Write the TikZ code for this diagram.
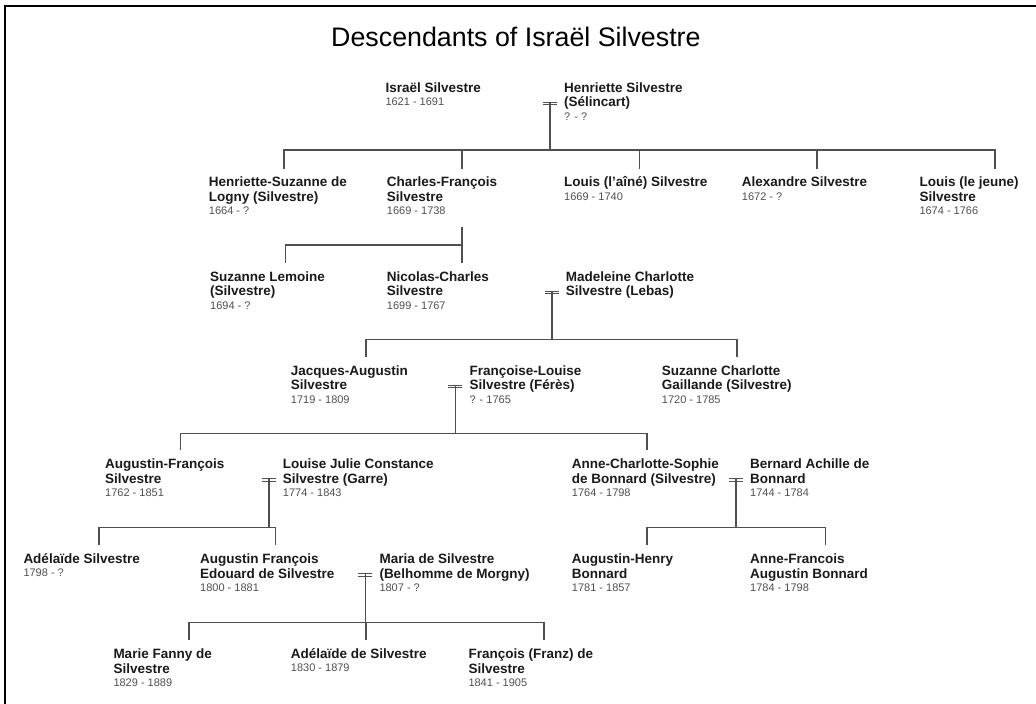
\documentclass[tikz,border=0pt]{standalone}
\usepackage{fontspec}
\setmainfont{Liberation Sans}
\usetikzlibrary{calc}
\definecolor{linkc}{HTML}{4F4F4F}
\definecolor{namec}{HTML}{1A1A1A}
\definecolor{datec}{HTML}{505050}
\newcommand\namefont{\fontsize{13.5}{14.7}\selectfont\bfseries}
\newcommand\datefont{\fontsize{11}{13}\selectfont\mdseries\color{datec}}
\newcommand\pp[2]{\begin{tabular}[t]{@{}l@{}}#1\\[-1.2pt]\datefont #2\end{tabular}}
\newcommand\pq[1]{\begin{tabular}[t]{@{}l@{}}#1\end{tabular}}
\tikzset{
  pers/.style={anchor=base west, inner sep=0pt, font=\namefont, text=namec},
  link/.style={draw=linkc, line width=1.6pt},
  marline/.style={draw=linkc, line width=1.1pt},
  frameline/.style={draw=black, line width=2.2pt},
  titletext/.style={anchor=base west, inner sep=0pt, font=\fontsize{26.8}{30}\selectfont, text=black}
}
\newcommand\marsym[1]{\draw[marline] ($(#1)+(-7,-1.2)$) -- ++(14,0) ($(#1)+(-7,1.2)$) -- ++(14,0);}
\begin{document}
\begin{tikzpicture}[x=1pt,y=-1pt]
\useasboundingbox (0,0) rectangle (1036,704);
\fill[white] (0,0) rectangle (1036,704);
\draw[frameline] (5.2,704) -- (5.2,5.8) -- (1036,5.8);

\node[titletext] (title) at (331,46) {Descendants of Israël Silvestre};

% generation 1
\node[pers] (is) at (385.3,92) {\pp{Israël Silvestre}{1621 - 1691}};
\node[pers] (hs0) at (564,92) {\pp{Henriette Silvestre\\(Sélincart)}{? - ?}};
% generation 2
\node[pers] (hsz) at (208.7,186.7) {\pp{Henriette-Suzanne de\\Logny (Silvestre)}{1664 - ?}};
\node[pers] (cf) at (386.7,186.7) {\pp{Charles-François\\Silvestre}{1669 - 1738}};
\node[pers] (la) at (564,186.7) {\pp{Louis (l'aîné) Silvestre}{1669 - 1740}};
\node[pers] (al) at (741.7,186.7) {\pp{Alexandre Silvestre}{1672 - ?}};
\node[pers] (lj) at (919.3,186.7) {\pp{Louis (le jeune)\\Silvestre}{1674 - 1766}};
% generation 3
\node[pers] (sl) at (210,281) {\pp{Suzanne Lemoine\\(Silvestre)}{1694 - ?}};
\node[pers] (nc) at (386.7,281) {\pp{Nicolas-Charles\\Silvestre}{1699 - 1767}};
\node[pers] (mc) at (565.7,281) {\pq{Madeleine Charlotte\\Silvestre (Lebas)}};
% generation 4
\node[pers] (ja) at (290.7,375) {\pp{Jacques-Augustin\\Silvestre}{1719 - 1809}};
\node[pers] (fl) at (469.3,375) {\pp{Françoise-Louise\\Silvestre (Férès)}{? - 1765}};
\node[pers] (sc) at (661.7,375) {\pp{Suzanne Charlotte\\Gaillande (Silvestre)}{1720 - 1785}};
% generation 5
\node[pers] (af) at (105,468.3) {\pp{Augustin-François\\Silvestre}{1762 - 1851}};
\node[pers] (lc) at (282.7,468.3) {\pp{Louise Julie Constance\\Silvestre (Garre)}{1774 - 1843}};
\node[pers] (ac) at (571.7,468.3) {\pp{Anne-Charlotte-Sophie\\de Bonnard (Silvestre)}{1764 - 1798}};
\node[pers] (ba) at (750,468.3) {\pp{Bernard Achille de\\Bonnard}{1744 - 1784}};
% generation 6
\node[pers] (ad) at (23.3,563.3) {\pp{Adélaïde Silvestre}{1798 - ?}};
\node[pers] (afe) at (200,563.3) {\pp{Augustin François\\Edouard de Silvestre}{1800 - 1881}};
\node[pers] (ms) at (379.3,563.3) {\pp{Maria de Silvestre\\(Belhomme de Morgny)}{1807 - ?}};
\node[pers] (ah) at (571.7,563.3) {\pp{Augustin-Henry\\Bonnard}{1781 - 1857}};
\node[pers] (afb) at (750,563.3) {\pp{Anne-Francois\\Augustin Bonnard}{1784 - 1798}};
% generation 7
\node[pers] (mf) at (113.3,658.3) {\pp{Marie Fanny de\\Silvestre}{1829 - 1889}};
\node[pers] (ads) at (290.7,658.3) {\pp{Adélaïde de Silvestre}{1830 - 1879}};
\node[pers] (ff) at (468.3,658.3) {\pp{François (Franz) de\\Silvestre}{1841 - 1905}};

% drop points above each child
\foreach \n in {hsz,cf,la,al,lj,sl,nc,ja,sc,af,ac,ad,afe,ah,afb,mf,ads,ff}
  \coordinate (\n-t) at ($(\n.base west)+(75.5,-18)$);
% marriage points beside each spouse
\foreach \n/\m in {hs0/m1,mc/m3,fl/m4,lc/m5,ba/m6,ms/m7}
  \coordinate (\m) at ($(\n.base west)+(-14,11.6)$);
\coordinate (cfd) at ($(cf.base west)+(75.5,40)$);

\foreach \m in {m1,m3,m4,m5,m6,m7} {\marsym{\m}}

% family of Israel
\draw[link] ($(m1)+(0,-1.2)$) -- (m1 |- 0,150);
\draw[link] (hsz-t) -- (hsz-t |- 0,150) -- (lj-t |- 0,150) -- (lj-t);
\foreach \c in {cf,la,al} \draw[link] (\c-t) -- (\c-t |- 0,150);
% family of Charles-Francois
\draw[link] (cfd) -- (cfd |- 0,245);
\draw[link] (sl-t) -- (sl-t |- 0,245) -- (nc-t |- 0,245) -- (nc-t);
% family of Nicolas-Charles
\draw[link] ($(m3)+(0,-1.2)$) -- (m3 |- 0,339.5);
\draw[link] (ja-t) -- (ja-t |- 0,339.5) -- (sc-t |- 0,339.5) -- (sc-t);
% family of Jacques-Augustin
\draw[link] ($(m4)+(0,-1.2)$) -- (m4 |- 0,433.3);
\draw[link] (af-t) -- (af-t |- 0,433.3) -- (ac-t |- 0,433.3) -- (ac-t);
% family of Augustin-Francois
\draw[link] ($(m5)+(0,-1.2)$) -- (m5 |- 0,527.3);
\draw[link] (ad-t) -- (ad-t |- 0,527.3) -- (afe-t |- 0,527.3) -- (afe-t);
% family of Anne-Charlotte-Sophie
\draw[link] ($(m6)+(0,-1.2)$) -- (m6 |- 0,527.5);
\draw[link] (ah-t) -- (ah-t |- 0,527.5) -- (afb-t |- 0,527.5) -- (afb-t);
% family of Augustin Francois Edouard
\draw[link] ($(m7)+(0,-1.2)$) -- (m7 |- 0,622.3);
\draw[link] (mf-t) -- (mf-t |- 0,622.3) -- (ff-t |- 0,622.3) -- (ff-t);
\draw[link] (ads-t) -- (ads-t |- 0,622.3);
\end{tikzpicture}
\end{document}
